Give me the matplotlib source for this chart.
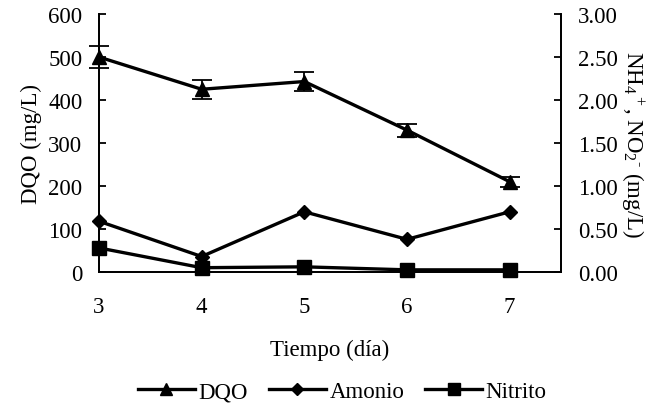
import matplotlib
matplotlib.use("Agg")
import matplotlib.pyplot as plt
from matplotlib.lines import Line2D

plt.rcParams['font.family'] = ['Liberation Serif', 'DejaVu Serif']
plt.rcParams['mathtext.fontset'] = 'custom'
plt.rcParams['mathtext.rm'] = 'Liberation Serif'
plt.rcParams['mathtext.it'] = 'Liberation Serif:italic'

dias = [3, 4, 5, 6, 7]
dqo = [500, 425, 443, 330, 210]
dqo_err = [25, 22, 22, 15, 12]
amonio = [0.59, 0.18, 0.70, 0.38, 0.70]
nitrito = [0.28, 0.05, 0.06, 0.025, 0.025]

left_ticks = [0, 100, 200, 300, 400, 500, 600]
right_ticks = [0.0, 0.5, 1.0, 1.5, 2.0, 2.5, 3.0]

FS = 16.5

fig = plt.figure(figsize=(6.62, 4.06), dpi=100)
ax = fig.add_axes([0.1495, 0.3276, 0.8474 - 0.1495, 0.963 - 0.3276])
ax2 = ax.twinx()

lw = 2.4
ax.errorbar(dias, dqo, yerr=dqo_err, color='black', lw=lw, marker='^', ms=10,
            capsize=7, elinewidth=1.3, capthick=1.3, clip_on=False, zorder=5)
ax2.plot(dias, amonio, color='black', lw=lw, marker='D', ms=7, clip_on=False, zorder=5)
ax2.plot(dias, nitrito, color='black', lw=lw, marker='s', ms=10.5, clip_on=False, zorder=5)

ax.set_xlim(3, 7.5)
ax.set_ylim(0, 600)
ax2.set_ylim(0, 3.0)
ax.set_xticks(dias)
ax.set_yticks(left_ticks)
ax2.set_yticks(right_ticks)
ax2.set_yticklabels([f"{v:.2f}" for v in right_ticks])

for a in (ax, ax2):
    a.spines['top'].set_visible(False)
    for s in a.spines.values():
        s.set_linewidth(1.3)
ax.tick_params(axis='x', length=0, labelsize=FS, pad=17)
ax.tick_params(axis='y', direction='in', length=5, width=1.3, labelsize=FS, pad=12)
ax2.tick_params(axis='y', direction='in', length=5, width=1.3, labelsize=FS, pad=12)

ax.set_xlabel('Tiempo (día)', fontsize=FS, labelpad=16)
ax.set_ylabel('DQO (mg/L)', fontsize=FS, labelpad=4)
ax2.set_ylabel(r'NH$_4$$^+$, NO$_2$$^{\text{-}}$ (mg/L)', fontsize=FS, rotation=270, labelpad=20)

handles = [
    Line2D([], [], color='black', lw=lw, marker='^', ms=8),
    Line2D([], [], color='black', lw=lw, marker='D', ms=6),
    Line2D([], [], color='black', lw=lw, marker='s', ms=8),
]
fig.legend(handles, ['DQO', 'Amonio', 'Nitrito'], loc='center', bbox_to_anchor=(0.517, 0.033),
           ncol=3, frameon=False, fontsize=FS, handlelength=2.5, handletextpad=0.15,
           columnspacing=0.9, borderpad=0.1)

fig.savefig('out.png', dpi=100)
